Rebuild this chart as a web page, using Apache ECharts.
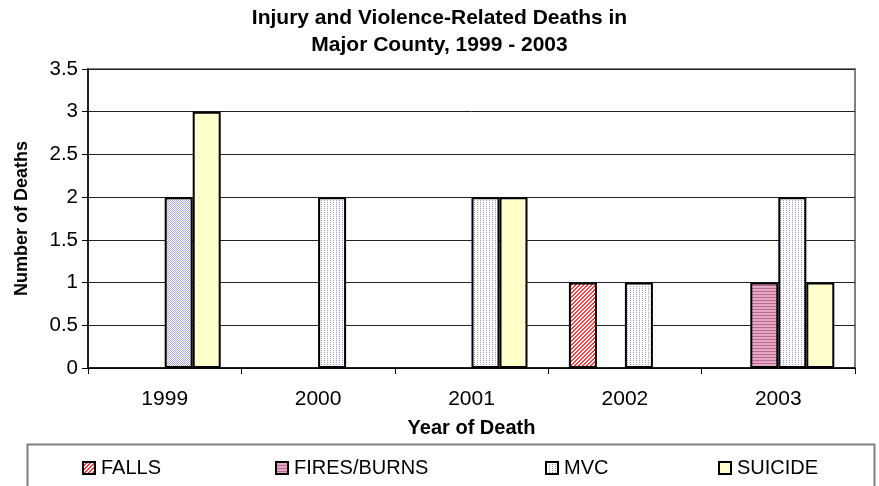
<!DOCTYPE html>
<html><head><meta charset="utf-8">
<script src="https://cdn.jsdelivr.net/npm/echarts@6/dist/echarts.min.js"></script>
<style>html,body{margin:0;padding:0;background:#fff}#c{width:879px;height:486px}</style>
</head><body><div id="c"></div>
<script>
var categories = ['1999', '2000', '2001', '2002', '2003'];
var seriesNames = ['FALLS', 'FIRES/BURNS', 'MVC', 'SUICIDE'];
var falls = [null, null, null, 1, null];
var firesBurns = [null, null, null, null, 1];
var mvc = [2, 2, 2, 1, 2];
var suicide = [3, null, 2, null, 1];
var yTicks = [0, 0.5, 1, 1.5, 2, 2.5, 3, 3.5];

function pat(w, h, draw) {
  var c = document.createElement('canvas'); c.width = w; c.height = h;
  var g = c.getContext('2d'); draw(g); return {image: c, repeat: 'repeat'};
}
var fallsPat = pat(4, 4, function (g) {
  g.fillStyle = '#ffffff'; g.fillRect(0, 0, 4, 4);
  g.fillStyle = '#ff3b3b';
  for (var i = 0; i < 4; i++) { g.fillRect(i, 3 - i, 1, 1); g.fillRect((i + 1) % 4, 3 - i, 1, 1); }
});
var firesPat = pat(2, 3, function (g) {
  g.fillStyle = '#e3a6c4'; g.fillRect(0, 0, 2, 3);
  g.fillStyle = '#bf6c94'; g.fillRect(0, 0, 2, 1);
});
var mvcPat = pat(3, 2, function (g) {
  g.fillStyle = '#ffffff'; g.fillRect(0, 0, 3, 2);
  g.fillStyle = '#9a9ae8'; g.fillRect(0, 0, 1, 1);
});
var mvcCheckPat = pat(2, 2, function (g) {
  g.fillStyle = '#ffffff'; g.fillRect(0, 0, 2, 2);
  g.fillStyle = '#a8a8ea'; g.fillRect(0, 0, 1, 1); g.fillRect(1, 1, 1, 1);
});
var suicideColor = '#ffffcc';

var font = 'Arial, "Liberation Sans", sans-serif';
var mvcData = mvc.map(function (v, i) {
  return i === 0 ? {value: v, itemStyle: {color: mvcCheckPat}} : v;
});
var data = [falls, firesBurns, mvcData, suicide];
var colors = [fallsPat, firesPat, mvcPat, suicideColor];
var series = seriesNames.map(function (n, i) {
  return {
    name: n, type: 'bar', data: data[i], barWidth: 28, barGap: '0%',
    itemStyle: {color: colors[i], borderColor: '#000', borderWidth: 2}
  };
});
var legendLefts = [82, 275, 545, 718];
var legends = seriesNames.map(function (n, i) {
  return {
    data: [n], left: legendLefts[i], top: 458, padding: 0, itemWidth: 12, itemHeight: 12, itemGap: 4,
    icon: 'rect', textStyle: {fontFamily: font, fontSize: 20, color: '#000', padding: [0, 0, 0, 1]},
    itemStyle: {borderColor: '#000', borderWidth: 2}
  };
});
var chart = echarts.init(document.getElementById('c'), null, {renderer: 'canvas'});
chart.setOption({
  animation: false,
  backgroundColor: '#fff',
  title: {
    text: 'Injury and Violence-Related Deaths in\nMajor County, 1999 - 2003',
    left: 'center', top: 5, padding: 0,
    textStyle: {fontFamily: font, fontSize: 21, fontWeight: 'bold', color: '#000', lineHeight: 27}
  },
  legend: legends,
  grid: {left: 88, right: 24, top: 69, bottom: 118, show: true, borderColor: '#808080', borderWidth: 2, backgroundColor: 'transparent'},
  xAxis: {
    type: 'category', data: categories, name: 'Year of Death', nameLocation: 'middle', nameGap: 50,
    nameTextStyle: {fontFamily: font, fontSize: 20, fontWeight: 'bold', color: '#000'},
    axisLine: {lineStyle: {color: '#000', width: 1.5}},
    axisTick: {show: true, length: 6, lineStyle: {color: '#000', width: 1}},
    axisLabel: {fontFamily: font, fontSize: 21, color: '#000', margin: 21}
  },
  yAxis: {
    type: 'value', min: 0, max: 3.5, interval: 0.5,
    name: 'Number of Deaths', nameLocation: 'middle', nameGap: 57,
    nameTextStyle: {fontFamily: font, fontSize: 18, fontWeight: 'bold', color: '#000'},
    axisLine: {show: true, lineStyle: {color: '#000', width: 1.5}},
    axisTick: {show: true, length: 6, lineStyle: {color: '#000'}},
    axisLabel: {fontFamily: font, fontSize: 20.5, color: '#000', margin: 10,
      formatter: function (v) { return yTicks.indexOf(v) >= 0 ? String(v) : ''; }},
    splitLine: {lineStyle: {color: '#222', width: 1}}
  },
  graphic: [{
    type: 'rect', left: 25, top: 442, silent: true,
    shape: {width: 847, height: 60},
    style: {fill: 'none', stroke: '#808080', lineWidth: 2}
  }],
  series: series
});
</script></body></html>
